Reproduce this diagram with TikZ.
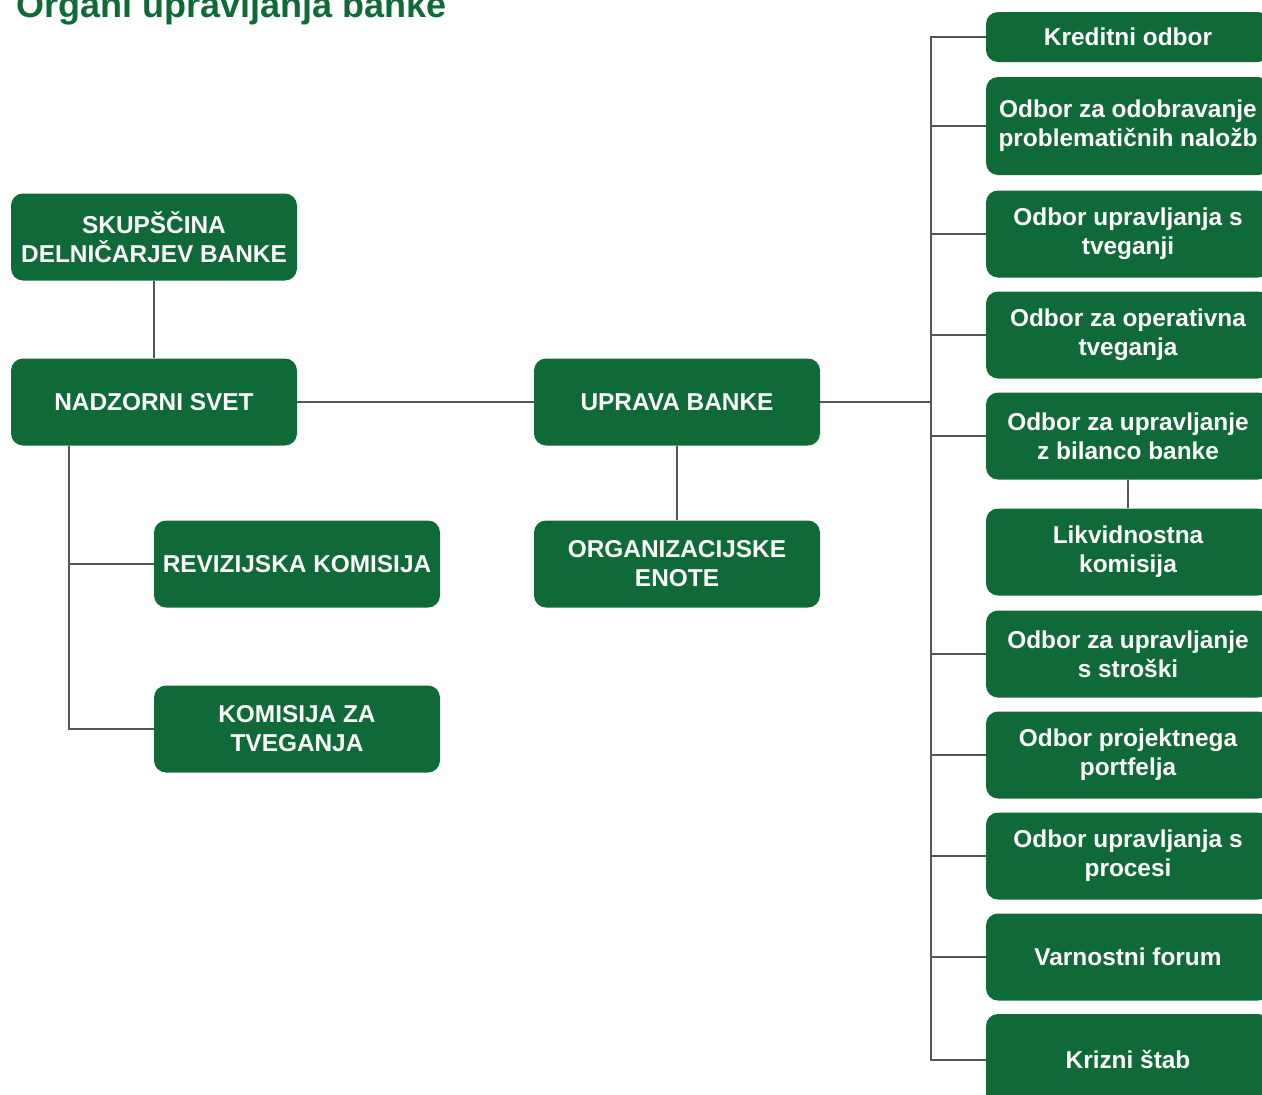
\documentclass[tikz,border=0pt]{standalone}
\usepackage{fontspec}
\setmainfont{Liberation Sans}
\definecolor{bgreen}{RGB}{16,106,55}
\definecolor{lgrey}{RGB}{85,85,85}
\begin{document}
\begin{tikzpicture}[x=1pt,y=-1pt,
  box/.style={draw=none,fill=bgreen,rounded corners=12pt,text=white,
    font=\bfseries\fontsize{24.4}{29}\selectfont,align=center,inner sep=0pt,
    minimum width=286pt,minimum height=87pt},
  rbox/.style={box,minimum width=284pt},
  conn/.style={draw=lgrey,line width=2.8pt}]
\useasboundingbox (0,0) rectangle (1262,1095);
\clip (0,0) rectangle (1262,1095);
\node[anchor=base west,text=bgreen,font=\bfseries\fontsize{36}{40}\selectfont,inner sep=0pt] (title) at (16,17) {Organi upravljanja banke};
% left column
\node[box] (skup) at (154,237) {SKUPŠČINA\\DELNIČARJEV BANKE};
\node[box] (nad) at (154,402) {NADZORNI SVET};
\node[box] (rev) at (297,564) {REVIZIJSKA KOMISIJA};
\node[box] (kom) at (297,729) {KOMISIJA ZA\\TVEGANJA};
\node[box] (upr) at (677,402) {UPRAVA BANKE};
\node[box] (org) at (677,564) {ORGANIZACIJSKE\\ENOTE};
% right column
\node[rbox,minimum height=50pt] (k1) at (1128,37) {Kreditni odbor};
\node[rbox,minimum height=98pt] (k2) at (1128,126) {Odbor za odobravanje\\problematičnih naložb};
\node[rbox] (k3) at (1128,234) {Odbor upravljanja s\\tveganji};
\node[rbox] (k4) at (1128,335) {Odbor za operativna\\tveganja};
\node[rbox] (k5) at (1128,436) {Odbor za upravljanje\\z bilanco banke};
\node[rbox] (k6) at (1128,552) {Likvidnostna\\komisija};
\node[rbox] (k7) at (1128,654) {Odbor za upravljanje\\s stroški};
\node[rbox] (k8) at (1128,755) {Odbor projektnega\\portfelja};
\node[rbox] (k9) at (1128,856) {Odbor upravljanja s\\procesi};
\node[rbox] (k10) at (1128,957) {Varnostni forum};
\node[rbox,minimum height=92pt] (k11) at (1128,1060) {Krizni štab};
% connectors
\coordinate (lt) at (69,446);
\coordinate (trunk) at (931,402);
\draw[conn] (skup) -- (nad);
\draw[conn] (nad.east) -- (upr.west);
\draw[conn] (upr) -- (org);
\draw[conn] (lt) |- (rev.west);
\draw[conn] (lt) |- (kom.west);
\draw[conn] (upr.east) -- (trunk);
\draw[conn] (k1.west) -| (trunk) |- (k11.west);
\foreach \k in {k2,k3,k4,k5,k7,k8,k9,k10}{\draw[conn] (trunk |- \k.west) -- (\k.west);}
\draw[conn] (k5) -- (k6);
\end{tikzpicture}
\end{document}
